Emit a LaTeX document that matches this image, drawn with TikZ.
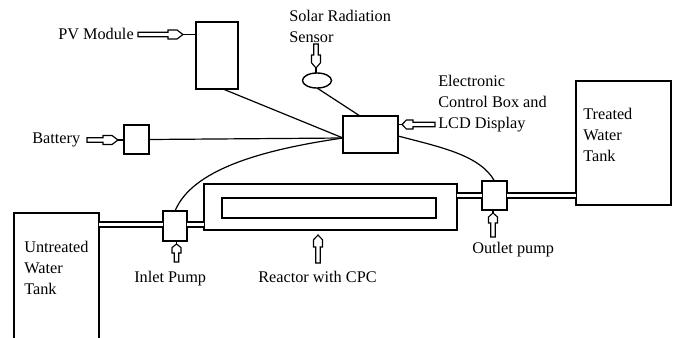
\documentclass[tikz,border=0pt]{standalone}
\usepackage{fontspec}
\setmainfont{Liberation Serif}
\usetikzlibrary{shapes.geometric}
% block arrow: #1 tip, #2 rotation, #3 total length, #4 head length, #5 stub length
\newcommand\blockarr[5]{%
  \begin{scope}[shift={#1},rotate=#2]
    \draw[arrline] (0,0) -- (-0.4*#4,4.5) -- (-#4,4.5) -- (-#4,2.2) -- (-#3,2.2)
      -- (-#3,-2.2) -- (-#4,-2.2) -- (-#4,-4.5) -- (-0.4*#4,-4.5) -- cycle;
    \draw[wire] (0,0) -- (#5,0);
  \end{scope}}
\begin{document}
\begin{tikzpicture}[x=0.75pt,y=-0.75pt,
  box/.style={draw, line width=1.05pt, inner sep=0pt, outer sep=0pt},
  wire/.style={line width=0.9pt},
  pipe/.style={line width=0.9pt, double=white, double distance=2.9pt},
  arrline/.style={draw, line width=0.85pt, fill=white, line join=miter},
  lbl/.style={inner sep=0pt, anchor=base west, align=left,
              font=\fontsize{12.2}{15.4}\selectfont}]
\useasboundingbox (0,0) rectangle (678,337);

% boxes
\node[box, minimum width=42*0.75pt, minimum height=67*0.75pt] (pv) at (217,55.5) {};
\node[box, ellipse, minimum width=29*0.75pt, minimum height=15*0.75pt] (sens) at (317,80.5) {};
\node[box, minimum width=25*0.75pt, minimum height=29*0.75pt] (bat) at (136.5,139.5) {};
\node[box, minimum width=55*0.75pt, minimum height=37*0.75pt] (ctrl) at (370.5,134.5) {};
\node[box, minimum width=95*0.75pt, minimum height=124*0.75pt] (treat) at (623.5,143) {};
\node[box, minimum width=85*0.75pt, minimum height=140*0.75pt] (untr) at (56.5,283) {};
\node[box, minimum width=24*0.75pt, minimum height=30*0.75pt] (inlet) at (175,226) {};
\node[box, minimum width=253*0.75pt, minimum height=46*0.75pt] (reac) at (330.5,207) {};
\node[box, minimum width=214*0.75pt, minimum height=20*0.75pt] (reacin) at (329,208) {};
\node[box, minimum width=25*0.75pt, minimum height=29*0.75pt] (outlet) at (494.5,195.5) {};

% pipes
\coordinate (pin) at ([yshift=1.1pt]inlet.west);
\coordinate (pinr) at ([yshift=1.1pt]inlet.east);
\draw[pipe] (untr.east |- pin) -- (pin);
\draw[pipe] (pinr) -- (reac.west |- pinr);
\draw[pipe] (reac.east |- outlet.center) -- (outlet.west);
\draw[pipe] (outlet.east) -- (treat.west |- outlet.center);

% wires
\coordinate (cc) at ([yshift=-3.5*0.75pt]ctrl.west);
\draw[wire] ([xshift=6*0.75pt]pv.south) -- (cc);
\draw[wire] (bat.east) -- (cc);
\draw[wire] (sens.south) -- ([xshift=-10.5*0.75pt]ctrl.north);
\draw[wire] (cc) .. controls (260,150) and (192,170) .. (inlet.north);
\draw[wire] ([yshift=-1.5*0.75pt]ctrl.east) .. controls (440,147) and (480,155) .. (outlet.north);

% labels (base anchor = baseline of last line)
\node[lbl] (tpv) at (58,39) {PV Module};
\node[lbl] (tsens) at (289,42) {Solar Radiation\\Sensor};
\node[lbl] (tbat) at (32,143.5) {Battery};
\node[lbl] (tctrl) at (438,128) {Electronic\\Control Box and\\LCD Display};
\node[lbl] (ttreat) at (583,161) {Treated\\Water\\Tank};
\node[lbl] (tuntr) at (24,294) {Untreated\\Water\\Tank};
\node[lbl] (tin) at (134,282) {Inlet Pump};
\node[lbl] (treac) at (258,282) {Reactor with CPC};
\node[lbl] (tout) at (472,253) {Outlet pump};

% block arrows
\blockarr{(183,34.5)}{0}{45}{15}{13}
\blockarr{(118,140)}{0}{31}{15}{6}
\blockarr{(316,68)}{-90}{24}{13}{5}
\blockarr{(402,124.5)}{180}{33}{11}{4}
\blockarr{(176.5,244)}{90}{18}{9}{3}
\blockarr{(318,235)}{90}{28}{12}{0}
\blockarr{(493,213)}{90}{24}{10}{3}
\end{tikzpicture}
\end{document}
